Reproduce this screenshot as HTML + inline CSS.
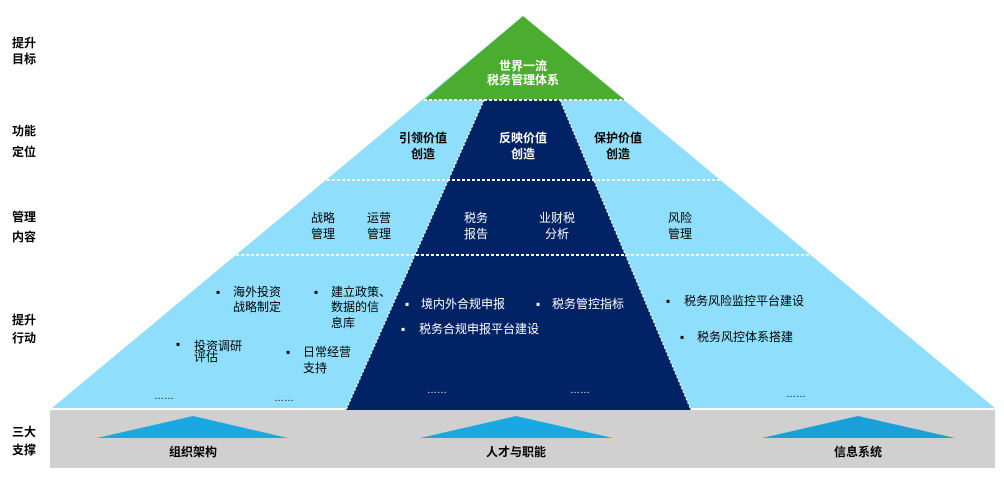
<!DOCTYPE html>
<html><head><meta charset="utf-8"><style>
html,body{margin:0;padding:0;background:#fff;}
svg{display:block;font-family:"Liberation Sans","Noto Sans CJK SC",sans-serif;}
.l{font-size:12px;font-weight:bold;fill:#000;}
.t{font-size:12px;fill:#000;}
.w{font-size:12px;fill:#fff;}
.wb{font-size:12px;fill:#fff;font-weight:bold;}
.b{font-size:12px;font-weight:bold;fill:#000;}
</style></head><body>
<svg width="1004" height="480" viewBox="0 0 1004 480">
<rect x="50" y="410" width="945" height="58" fill="#d0d0d0"/>
<polygon points="523,16 995,408 52,408" fill="#8fdffc"/>
<polygon points="523,16 625,100 424,100" fill="#4bad2f"/>
<polygon points="484,100 560,100 691,410 346,410" fill="#012366"/>
<g stroke="#fff" stroke-width="2" stroke-dasharray="3,2">
<line x1="424" y1="100" x2="625" y2="100"/>
<line x1="327" y1="180" x2="720" y2="180"/>
<line x1="236" y1="255" x2="811" y2="255"/>
<line x1="484" y1="100" x2="346" y2="410" stroke-width="1.2" stroke-dasharray="2,2"/>
<line x1="560" y1="100" x2="691" y2="410" stroke-width="1.2" stroke-dasharray="2,2"/>
</g>
<polygon points="193,416 288,438 97,438" fill="#1aa8e2"/>
<polygon points="516,416 613,438 420,438" fill="#1aa8e2"/>
<polygon points="858,416 955,438 762,438" fill="#1aa0d8"/>
<g class="l">
<text x="12" y="47">提升</text><text x="12" y="63">目标</text>
<text x="12" y="135">功能</text><text x="12" y="156">定位</text>
<text x="12" y="221">管理</text><text x="12" y="241">内容</text>
<text x="12" y="324">提升</text><text x="12" y="342">行动</text>
<text x="12" y="436">三大</text><text x="12" y="454">支撑</text>
</g>
<g class="wb" text-anchor="middle">
<text x="523" y="70">世界一流</text><text x="523" y="84">税务管理体系</text>
<text x="523" y="142">反映价值</text><text x="523" y="158">创造</text>
</g>
<g class="b" text-anchor="middle">
<text x="423" y="142">引领价值</text><text x="423" y="158">创造</text>
<text x="618" y="142">保护价值</text><text x="618" y="158">创造</text>
<text x="193" y="456">组织架构</text><text x="516" y="456">人才与职能</text><text x="858" y="456">信息系统</text>
</g>
<g class="t" text-anchor="middle">
<text x="323" y="222">战略</text><text x="323" y="238">管理</text>
<text x="379" y="222">运营</text><text x="379" y="238">管理</text>
<text x="680" y="222">风险</text><text x="680" y="238">管理</text>
</g>
<g class="w" text-anchor="middle">
<text x="476" y="222">税务</text><text x="476" y="238">报告</text>
<text x="557" y="222">业财税</text><text x="557" y="238">分析</text>
</g>
<g class="t">
<text x="216" y="296">▪</text><text x="233" y="296">海外投资</text><text x="233" y="311">战略制定</text>
<text x="314" y="296">▪</text><text x="331" y="296">建立政策、</text><text x="331" y="311">数据的信</text><text x="331" y="327">息库</text>
<text x="176" y="348">▪</text><text x="194" y="350">投资调研</text><text x="194" y="361">评估</text>
<text x="286" y="356">▪</text><text x="303" y="356">日常经营</text><text x="303" y="372">支持</text>
<text x="666" y="305">▪</text><text x="684" y="305">税务风险监控平台建设</text>
<text x="680" y="341">▪</text><text x="697" y="341">税务风控体系搭建</text>
<text x="154" y="399" font-size="10">……</text><text x="274" y="401" font-size="10">……</text>
<text x="786" y="397" font-size="10">……</text>
</g>
<g class="w">
<text x="405" y="308">▪</text><text x="421" y="308">境内外合规申报</text>
<text x="536" y="308">▪</text><text x="552" y="308">税务管控指标</text>
<text x="401" y="333">▪</text><text x="419" y="333">税务合规申报平台建设</text>
<text x="427" y="393" font-size="10">……</text><text x="570" y="393" font-size="10">……</text>
</g>
</svg>
</body></html>
